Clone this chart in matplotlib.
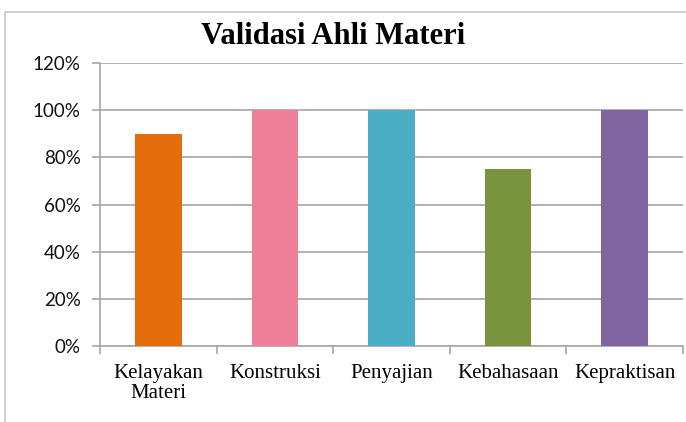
import matplotlib.pyplot as plt
from matplotlib.patches import Rectangle
from matplotlib.ticker import FuncFormatter

# data
categories = ['Kelayakan\nMateri', 'Konstruksi', 'Penyajian', 'Kebahasaan', 'Kepraktisan']
values = [90, 100, 100, 75, 100]
colors = ['#E46C0A', '#EF7F98', '#4BACC6', '#77933C', '#8064A2']
yticks = [0, 20, 40, 60, 80, 100, 120]

fig = plt.figure(figsize=(6.86, 4.22), dpi=100)
ax = fig.add_axes([0.1458, 0.18, 0.8498, 0.6707])

# chart frame
fig.patches.append(Rectangle((5 / 686, -0.1), 1.2, 1 - 12 / 422 + 0.1,
                             transform=fig.transFigure, fill=False,
                             edgecolor='#C8C8C8', linewidth=1.2))

x = list(range(len(categories)))
ax.bar(x, values, width=0.4, color=colors, zorder=3)

ax.set_xlim(-0.5, len(categories) - 0.5)
ax.set_ylim(0, 120)
ax.set_yticks(yticks)
ax.yaxis.set_major_formatter(FuncFormatter(lambda v, p: f'{int(v)}%'))
ax.grid(axis='y', color='#A6A6A6', linewidth=1.2, zorder=0)

for s in ['top', 'right']:
    ax.spines[s].set_visible(False)
for s in ['left', 'bottom']:
    ax.spines[s].set_color('#A6A6A6')
    ax.spines[s].set_linewidth(1.2)

ax.set_xticks([i - 0.5 for i in range(len(categories) + 1)])
ax.set_xticklabels([])
ax.set_xticks(x, minor=True)
ax.set_xticklabels(categories, minor=True, family='Liberation Serif', fontsize=15,
                   linespacing=1.05)
ax.tick_params(axis='x', which='major', length=6, width=1.2, color='#A6A6A6')
ax.tick_params(axis='x', which='minor', length=0, pad=13)
ax.tick_params(axis='y', length=6, width=1.2, color='#A6A6A6', labelsize=13.5, pad=8)
for lab in ax.get_yticklabels():
    lab.set_family('Lato')
    lab.set_color('#111111')

fig.text(333 / 686, 1 - 37 / 422, 'Validasi Ahli Materi', ha='center', va='center',
         family='Liberation Serif', fontweight='bold', fontsize=22)

fig.savefig('out.png', dpi=100)
